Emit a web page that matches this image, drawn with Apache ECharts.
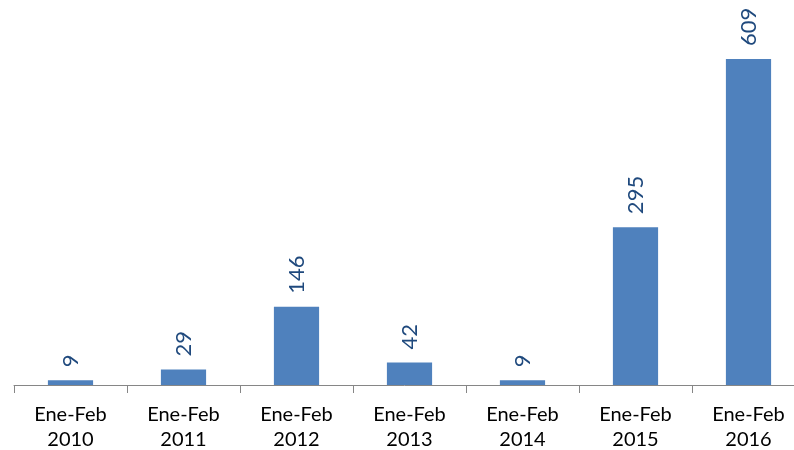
<!DOCTYPE html>
<html><head><meta charset="utf-8">
<script src="https://cdn.jsdelivr.net/npm/echarts@6/dist/echarts.min.js"></script>
<style>html,body{margin:0;padding:0;background:#fff}#c{width:794px;height:450px}</style>
</head><body><div id="c"></div>
<script>
const categories = ["Ene-Feb\n2010","Ene-Feb\n2011","Ene-Feb\n2012","Ene-Feb\n2013","Ene-Feb\n2014","Ene-Feb\n2015","Ene-Feb\n2016"];
const values = [9, 29, 146, 42, 9, 295, 609];
const chart = echarts.init(document.getElementById('c'));
chart.setOption({
  animation: false,
  grid: {left: 14, width: 791, top: 12, height: 373, containLabel: false, outerBoundsMode: 'none'},
  xAxis: {
    type: 'category', data: categories, boundaryGap: true,
    axisLine: {lineStyle: {color: '#868686', width: 1}},
    axisTick: {show: true, length: 8, alignWithLabel: false, lineStyle: {color: '#868686'}},
    axisLabel: {fontFamily: 'Lato', fontSize: 20, color: '#000', lineHeight: 25, margin: 17, interval: 0}
  },
  yAxis: {type: 'value', min: 0, max: 697, show: false, splitLine: {show: false}},
  series: [{
    type: 'bar', data: values, barWidth: '40%',
    itemStyle: {color: '#4F81BD'},
    label: {show: true, position: 'top', rotate: 90, align: 'left', verticalAlign: 'middle', distance: 13,
      fontFamily: 'Lato', fontSize: 22, color: '#1F497D'}
  }]
});
</script></body></html>
